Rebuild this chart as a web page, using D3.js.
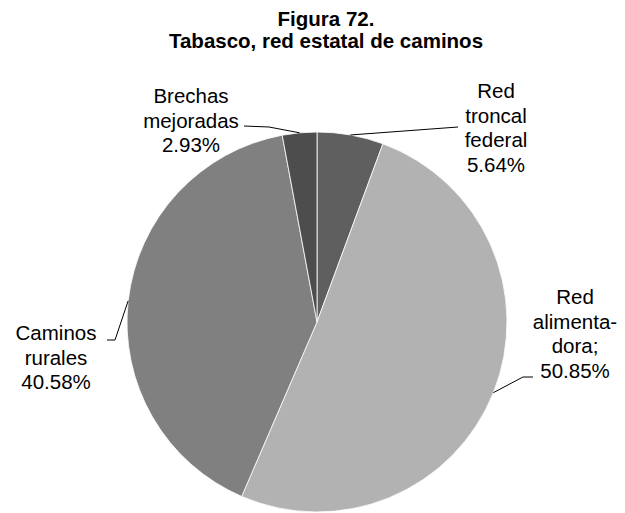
<!DOCTYPE html>
<html>
<head>
<meta charset="utf-8">
<script src="https://cdn.jsdelivr.net/npm/d3@7"></script>
<style>
  html, body { margin: 0; padding: 0; background: #fff; }
  svg { display: block; }
  text { font-family: Arial, "Liberation Sans", sans-serif; fill: #000; }
</style>
</head>
<body>
<script>
// ---- data ----
const categories = ["Red troncal federal", "Red alimentadora", "Caminos rurales", "Brechas mejoradas"];
const values = [5.64, 50.85, 40.58, 2.93];
const labelNames = [["Red", "troncal", "federal"], ["Red", "alimenta-", "dora;"], ["Caminos", "rurales"], ["Brechas", "mejoradas"]];
const colors = ["#5f5f5f", "#b2b2b2", "#808080", "#4d4d4d"];
const titleLines = ["Figura 72.", "Tabasco, red estatal de caminos"];

// ---- layout ----
const W = 625, H = 513;
const cx = 317, cy = 322, R = 190;
const lineH = 24.5;
const labelLayout = [
  { x: 496, y: 98, leader: [[458, 127]] },
  { x: 575, y: 304, leader: [[533, 377], [523, 377]] },
  { x: 56, y: 340, leader: [[107, 340], [115, 340]] },
  { x: 191, y: 103, leader: [[244, 126], [269, 127]] }
];

const svg = d3.select("body").append("svg").attr("width", W).attr("height", H);

// title
svg.append("g").selectAll("text").data(titleLines).join("text")
  .attr("x", 326).attr("y", (d, i) => 26 + i * 22)
  .attr("text-anchor", "middle")
  .style("font-weight", "bold").style("font-size", "20.5px")
  .text(d => d);

const data = categories.map((c, i) => ({ name: c, value: values[i], i }));
const pie = d3.pie().sort(null).value(d => d.value);
const arcs = pie(data);
const arc = d3.arc().innerRadius(0).outerRadius(R);
const edge = d3.arc().innerRadius(R).outerRadius(R);

const g = svg.append("g").attr("transform", `translate(${cx},${cy})`);
g.selectAll("path").data(arcs).join("path")
  .attr("d", arc)
  .attr("fill", d => colors[d.data.i])
  .attr("stroke", "#fff").attr("stroke-width", 0.8);

// leader lines
const fmt = d3.format(".2f");
svg.append("g").selectAll("polyline").data(arcs).join("polyline")
  .attr("fill", "none").attr("stroke", "#000").attr("stroke-width", 1)
  .attr("points", d => {
    const c = edge.centroid(d);
    const pts = labelLayout[d.data.i].leader.concat([[cx + c[0], cy + c[1]]]);
    return pts.map(p => p.join(",")).join(" ");
  });

// labels
const lg = svg.append("g");
arcs.forEach(d => {
  const L = labelLayout[d.data.i];
  const lines = labelNames[d.data.i].concat([fmt(d.data.value) + "%"]);
  const t = lg.append("text").attr("text-anchor", "middle").style("font-size", "20.5px");
  lines.forEach((s, k) => {
    t.append("tspan").attr("x", L.x).attr("y", L.y + k * lineH).text(s);
  });
});
</script>
</body>
</html>
